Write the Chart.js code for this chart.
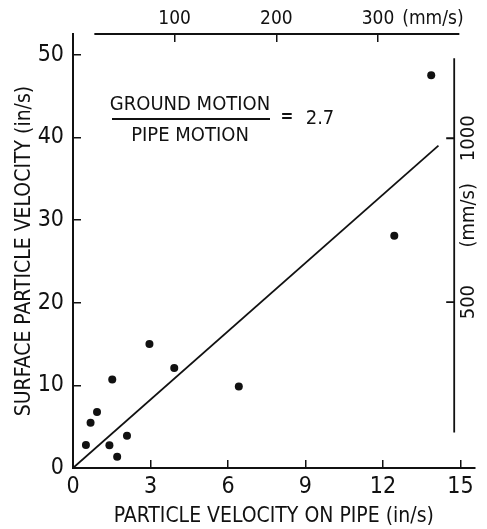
<!DOCTYPE html>
<html>
<head>
<meta charset="utf-8">
<script src="https://cdn.jsdelivr.net/npm/chart.js@4.4.1/dist/chart.umd.min.js"></script>
<style>
  html, body { margin: 0; padding: 0; background: #fff; }
  #wrap { width: 487px; height: 529px; }
</style>
</head>
<body>
<div id="wrap"><canvas id="velChart"></canvas></div>
<script>
/* =========================
   DATA
========================= */

const pipeVelocity    = [0.50, 0.68, 0.93, 1.41, 1.52, 1.71, 2.09, 2.96, 3.92, 6.42, 12.44, 13.87];
const surfaceVelocity = [2.78, 5.47, 6.76, 2.74, 10.7, 1.37, 3.90, 15.0, 12.1, 9.85, 28.1, 47.5];

// fitted line, ground / pipe = 2.7
const fitPipe    = [0, 14.15];
const fitSurface = [0, 39.0];

const xTicks = [0, 3, 6, 9, 12, 15];
const yTicks = [0, 10, 20, 30, 40, 50];
const topTicks = [100, 200, 300];
const rightTicks = [500, 1000];
const mmUnit = "(mm/s)";

/* =========================
   STYLE
========================= */

const ink = "#111";
const FONT = "'Liberation Sans Narrow', 'DejaVu Sans Condensed', 'Arial Narrow', sans-serif";

/* =========================
   EXTRA AXES + RATIO LABEL
========================= */

const axisExtras = {
    id: "axisExtras",
    afterDraw(chart) {
        const { ctx, chartArea, scales } = chart;
        const x = scales.x, x2 = scales.x2, y2 = scales.y2;

        ctx.save();
        ctx.strokeStyle = ink;
        ctx.fillStyle = ink;
        ctx.lineWidth = 1.8;

        // top mm/s axis, only part way across
        ctx.beginPath();
        ctx.moveTo(x2.getPixelForValue(21), chartArea.top);
        ctx.lineTo(x2.getPixelForValue(380), chartArea.top);
        ctx.stroke();

        // right mm/s axis
        const rx = x.getPixelForValue(14.76);
        ctx.beginPath();
        ctx.moveTo(rx, y2.getPixelForValue(1244));
        ctx.lineTo(rx, y2.getPixelForValue(102));
        rightTicks.forEach(v => {
            const py = y2.getPixelForValue(v);
            ctx.moveTo(rx, py);
            ctx.lineTo(rx - 8, py);
        });
        ctx.stroke();

        ctx.font = "20px " + FONT;
        ctx.textAlign = "center";
        ctx.textBaseline = "middle";
        const rightLabels = rightTicks.map(String).concat([mmUnit]);
        const rightPos = rightTicks.concat([765]);
        rightLabels.forEach((t, i) => {
            ctx.save();
            ctx.translate(rx + 15, y2.getPixelForValue(rightPos[i]));
            ctx.rotate(-Math.PI / 2);
            ctx.fillText(t, 0, 0);
            ctx.restore();
        });

        // ratio label
        ctx.fillText("GROUND MOTION", 190, 105);
        ctx.fillText("PIPE MOTION", 190, 136);
        ctx.beginPath();
        ctx.moveTo(112, 119);
        ctx.lineTo(270, 119);
        ctx.stroke();
        ctx.fillText("2.7", 320, 119);
        ctx.font = "bold 17px " + FONT;
        ctx.fillText("=", 287, 118);

        ctx.restore();
    }
};

/* =========================
   CHART
========================= */

const ctx = document.getElementById("velChart");

new Chart(ctx, {
    type: "scatter",
    data: {
        datasets: [
            {
                type: "scatter",
                data: pipeVelocity.map((v, i) => ({ x: v, y: surfaceVelocity[i] })),
                pointRadius: 4,
                pointBackgroundColor: ink,
                pointBorderWidth: 0
            },
            {
                type: "line",
                data: fitPipe.map((v, i) => ({ x: v, y: fitSurface[i] })),
                borderColor: ink,
                borderWidth: 1.8,
                pointRadius: 0,
                fill: false,
                tension: 0
            }
        ]
    },
    options: {
        responsive: true,
        maintainAspectRatio: false,
        animation: false,
        devicePixelRatio: 1,
        layout: { padding: { left: 0, right: 5, top: 0, bottom: 0 } },
        plugins: {
            legend: { display: false },
            tooltip: { enabled: false }
        },
        scales: {
            x: {
                type: "linear",
                position: "bottom",
                min: 0,
                max: 15.55,
                afterBuildTicks: s => { s.ticks = xTicks.map(v => ({ value: v })); },
                afterFit: s => { s.height = 61; },
                border: { color: ink, width: 2 },
                grid: { drawOnChartArea: false, color: ink, tickLength: -8, lineWidth: 1.5 },
                ticks: { color: ink, padding: 13, font: { family: FONT, size: 23 } },
                title: {
                    display: true,
                    text: "PARTICLE VELOCITY ON PIPE (in/s)",
                    color: ink,
                    font: { family: FONT, size: 21 },
                    padding: { top: 0, bottom: 0 }
                }
            },
            y: {
                type: "linear",
                position: "left",
                min: 0,
                max: 52.5,
                afterBuildTicks: s => { s.ticks = yTicks.map(v => ({ value: v })); },
                afterFit: s => { s.width = 73; },
                border: { color: ink, width: 2 },
                grid: { drawOnChartArea: false, color: ink, tickLength: -8, lineWidth: 1.5 },
                ticks: { color: ink, padding: 17, font: { family: FONT, size: 23 } },
                title: {
                    display: true,
                    text: "SURFACE PARTICLE VELOCITY (in/s)",
                    color: ink,
                    font: { family: FONT, size: 21 },
                    padding: { top: 12, bottom: 0 }
                }
            },
            x2: {
                type: "linear",
                position: "top",
                min: 0,
                max: 395,
                afterBuildTicks: s => {
                    s.ticks = topTicks.map(v => ({ value: v })).concat([{ value: 354, unit: true }]);
                },
                afterFit: s => { s.height = 34; },
                border: { display: false },
                grid: {
                    drawOnChartArea: false,
                    tickLength: -8,
                    lineWidth: 1.5,
                    tickColor: c => (c.tick && c.tick.unit) ? "rgba(0,0,0,0)" : ink
                },
                ticks: {
                    color: ink,
                    padding: 12,
                    font: { family: FONT, size: 19 },
                    callback: (v, i, t) => t[i].unit ? mmUnit : String(v)
                }
            },
            y2: {
                type: "linear",
                position: "right",
                display: false,
                min: -6,
                max: 1318
            }
        }
    },
    plugins: [axisExtras]
});
</script>
</body>
</html>
